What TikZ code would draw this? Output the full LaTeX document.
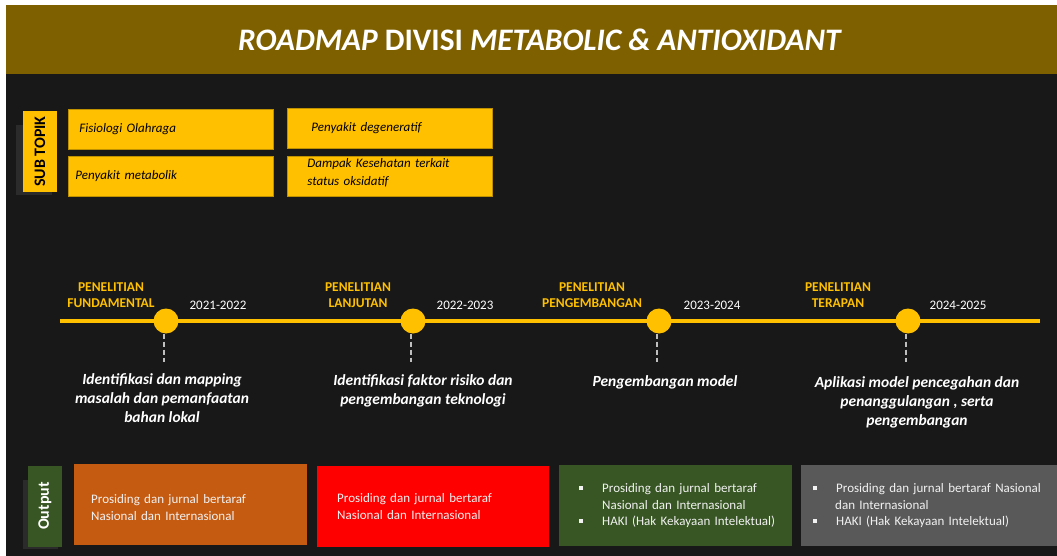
\documentclass[tikz,border=0pt]{standalone}
\usepackage{fontspec}
\setmainfont{Carlito}
\usepackage{xcolor}
\usepackage{tikz}
\usetikzlibrary{positioning}

\definecolor{headbrown}{HTML}{7F6000}
\definecolor{bgdark}{HTML}{181818}
\definecolor{gold}{HTML}{FFC000}
\definecolor{goldedge}{HTML}{BF9000}
\definecolor{shadowgray}{HTML}{2B2B2B}
\definecolor{outorange}{HTML}{C55A11}
\definecolor{outred}{HTML}{FF0000}
\definecolor{outgreen}{HTML}{375623}
\definecolor{outgray}{HTML}{595959}
\definecolor{stemgray}{HTML}{BFBFBF}

\newcommand{\fsz}[2]{\fontsize{#1}{#2}\selectfont}
\newcommand{\sqbullet}{\makebox[23pt][l]{\rule[2.5pt]{4pt}{4pt}}}

\begin{document}
\begin{tikzpicture}[x=1pt, y=-1pt,
  topic/.style={draw=goldedge, fill=gold, line width=0.8pt, anchor=north west,
    minimum width=205pt, minimum height=40pt, align=left, inner ysep=0pt,
    font=\fsz{13}{18}\itshape},
  sidelabel/.style={rotate=90, minimum width=81pt, minimum height=34pt,
    inner sep=0pt, font=\fsz{16}{18}\bfseries},
  dot/.style={circle, fill=gold, minimum size=25pt, inner sep=0pt},
  stem/.style={stemgray, line width=2.5pt, dash pattern=on 5pt off 3pt},
  stage/.style={text=gold, align=center, inner sep=0pt, font=\fsz{13.5}{16}\bfseries},
  year/.style={text=white, inner sep=0pt, font=\fsz{13}{16}},
  desc/.style={text=white, align=center, inner sep=0pt, font=\fsz{15.5}{19}\bfseries\itshape},
  outbox/.style={anchor=north west, minimum height=81pt, text=white!95!black,
    align=left, inner ysep=0pt, font=\fsz{13}{16.5}}]

  \useasboundingbox (0,0) rectangle (1057,556);

  % background and header band
  \fill[white] (0,0) rectangle (1057,556);
  \fill[bgdark] (6,74) rectangle (1057,556);
  \fill[headbrown] (6,5) rectangle (1057,74);
  \node[text=white, font=\fsz{31.3}{36}\bfseries] (judul) at (540,40)
    {\textit{ROADMAP} DIVISI \textit{METABOLIC \& ANTIOXIDANT}};

  % sub topik
  \fill[shadowgray] (16,125) rectangle (52,195);
  \node[sidelabel, fill=gold, text=black] (subtopik) at (40,151.5) {SUB TOPIK};
  \node[topic, inner xsep=11pt, text width=183pt] (tp1) at (68,109) {Fisiologi Olahraga};
  \node[topic, inner xsep=7pt, text width=191pt] (tp2) at (68,156) {Penyakit metabolik};
  \node[topic, inner xsep=24pt, text width=157pt] (tp3) at (287,108) {Penyakit degeneratif};
  \node[topic, inner xsep=20pt, text width=165pt] (tp4) at (287,156)
    {Dampak Kesehatan terkait\\status oksidatif\rule[-9pt]{0pt}{1pt}};

  % timeline
  \draw[gold, line width=4pt] (60,321) -- (1040,321);
  \foreach \cx/\n in {166/1, 413/2, 659/3, 908/4} {
    \node[dot] (c\n) at (\cx,321) {};
    \coordinate (s\n) at (\cx-2,362);
    \draw[stem] (c\n.south -| s\n) -- (s\n);
  }

  % stages and years
  \node[stage] (st1) at (111,295) {PENELITIAN\\FUNDAMENTAL};
  \node[stage] (st2) at (358,295) {PENELITIAN\\LANJUTAN};
  \node[stage] (st3) at (592,295) {PENELITIAN\\PENGEMBANGAN};
  \node[stage] (st4) at (838,295) {PENELITIAN\\TERAPAN};
  \node[year] (y1) at (218,305) {2021-2022};
  \node[year] (y2) at (465,305) {2022-2023};
  \node[year] (y3) at (712,305) {2023-2024};
  \node[year] (y4) at (958,305) {2024-2025};

  % descriptions
  \node[desc] (d1) at (162,398.5) {Identifikasi dan mapping\\masalah dan pemanfaatan\\bahan lokal};
  \node[desc] (d2) at (423,391) {Identifikasi faktor risiko dan\\pengembangan teknologi};
  \node[desc] (d3) at (665,382) {Pengembangan model};
  \node[desc] (d4) at (917,402.5) {Aplikasi model pencegahan dan\\penanggulangan , serta\\pengembangan};

  % output
  \fill[shadowgray] (23,480) rectangle (58,549);
  \node[sidelabel, fill=outgreen, text=white] (output) at (45,506) {Output};
  \node[outbox, fill=outorange, minimum width=233pt, inner xsep=17pt, text width=199pt]
    (o1) at (74,464) {\rule{0pt}{15pt}Prosiding dan jurnal bertaraf\\Nasional dan Internasional};
  \node[outbox, fill=outred, minimum width=232pt, inner xsep=20pt, text width=192pt]
    (o2) at (317,466) {Prosiding dan jurnal bertaraf\\Nasional dan Internasional};
  \node[outbox, fill=outgreen, minimum width=233pt, inner xsep=20pt, text width=193pt]
    (o3) at (559,465) {\mbox{\sqbullet Prosiding dan jurnal bertaraf}\\
      \hspace*{23pt}Nasional dan Internasional\\\mbox{\sqbullet HAKI (Hak Kekayaan Intelektual)}};
  \node[outbox, fill=outgray, minimum width=256pt, inner xsep=12pt, text width=232pt]
    (o4) at (801,465) {\mbox{\sqbullet Prosiding dan jurnal bertaraf Nasional}\\
      \hspace*{22pt}dan Internasional\\\mbox{\sqbullet HAKI (Hak Kekayaan Intelektual)}};
\end{tikzpicture}
\end{document}
